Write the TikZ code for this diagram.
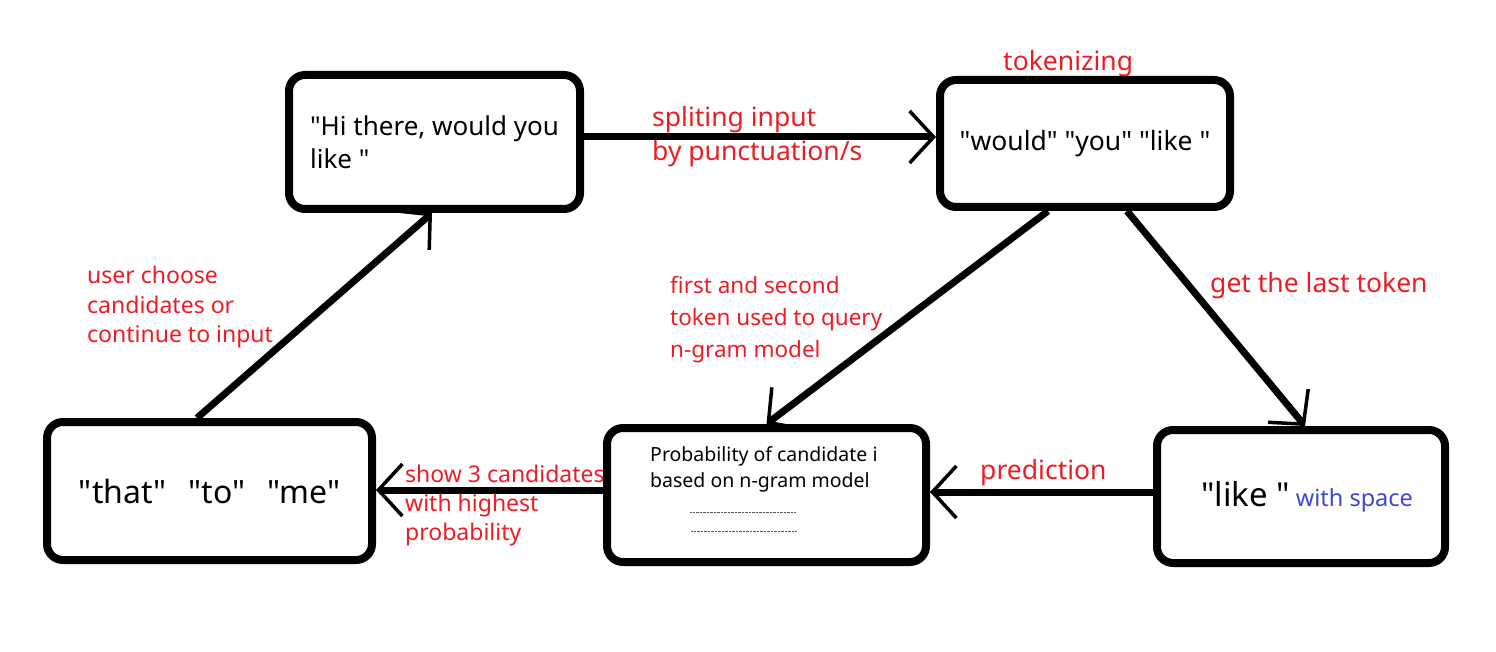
\documentclass[tikz,border=0pt]{standalone}
\usepackage{fontspec}
\newfontfamily\nf{Noto Sans}
\usetikzlibrary{arrows.meta}
\definecolor{pred}{HTML}{ED1C24}
\definecolor{pblue}{HTML}{3F48CC}
\tikzset{
  box/.style={draw=black, line width=8pt, rounded corners=16pt, inner sep=0pt},
  conn/.style={line width=7pt, -{Straight Barb[length=24pt,width=52pt,line width=3.5pt]}},
  lab/.style={text=pred, inner sep=0pt, align=left},
}
\begin{document}
\begin{tikzpicture}[x=1pt,y=-1pt, every node/.style={font=\nf}]
\path[use as bounding box] (0,0) rectangle (1496,652);

\node[box, minimum width=291pt, minimum height=134pt, align=left,
      font=\nf\fontsize{26}{33}\selectfont] (A) at (434.5,142) {"Hi there, would you\\like "};
\node[box, minimum width=290pt, minimum height=127pt,
      font=\nf\fontsize{26.5}{30}\selectfont] (B) at (1085,143.5) {"would" "you" "like "};
\node[box, minimum width=325pt, minimum height=138pt,
      font=\nf\fontsize{32}{36}\selectfont] (C) at (209.5,491) {"that"\hspace{22pt}"to"\hspace{22pt}"me"};
\node[box, minimum width=319pt, minimum height=134pt] (D) at (766.5,495) {};
\node[box, minimum width=288pt, minimum height=133pt] (E) at (1301,496.5)
  {\hspace{12pt}\fontsize{33}{36}\selectfont"like "\hspace{6pt}{\fontsize{23.5}{26}\selectfont\color{pblue}with space}};

\node[inner sep=0pt, anchor=north west, align=left, font=\nf\fontsize{19.5}{26}\selectfont] (dtxt) at (650,446)
  {Probability of candidate i\\based on n-gram model};
\draw[gray!70!black, line width=0.8pt, dash pattern=on 0.8pt off 0.6pt] (690,512) -- (796,512);
\draw[gray!70!black, line width=0.8pt, dash pattern=on 0.8pt off 0.6pt] (691,531) -- (797,531);

\draw[conn] ([yshift=5pt]A.east) -- ([yshift=6.5pt]B.west);
\draw[conn] ([xshift=-37pt]B.south) -- (D.north);
\draw[conn] ([xshift=42pt]B.south) -- ([xshift=4pt]E.north);
\draw[conn] ([yshift=4.5pt]E.west) -- ([yshift=3pt]D.east);
\draw[conn] ([yshift=5pt]D.west) -- ([yshift=1pt]C.east);
\draw[conn] ([xshift=-12.5pt]C.north) -- ([xshift=-2.5pt]A.south);

\node[lab, anchor=west, font=\nf\fontsize{26.5}{30}\selectfont] (l1) at (1003,64) {tokenizing};
\node[lab, anchor=north west, font=\nf\fontsize{26.5}{34}\selectfont] (l2) at (652,106) {spliting input\\by punctuation/s};
\node[lab, anchor=west, font=\nf\fontsize{26.5}{30}\selectfont] (l3) at (1210,286) {get the last token};
\node[lab, anchor=north west, font=\nf\fontsize{22.5}{32}\selectfont] (l4) at (670,276) {first and second\\token used to query\\n-gram model};
\node[lab, anchor=north west, font=\nf\fontsize{23}{29.5}\selectfont] (l5) at (87,266) {user choose\\candidates or\\continue to input};
\node[lab, anchor=west, font=\nf\fontsize{26.5}{30}\selectfont] (l6) at (980,473) {prediction};
\node[lab, anchor=north west, font=\nf\fontsize{23}{29}\selectfont] (l7) at (405,465) {show 3 candidates\\with highest\\probability};
\end{tikzpicture}
\end{document}
